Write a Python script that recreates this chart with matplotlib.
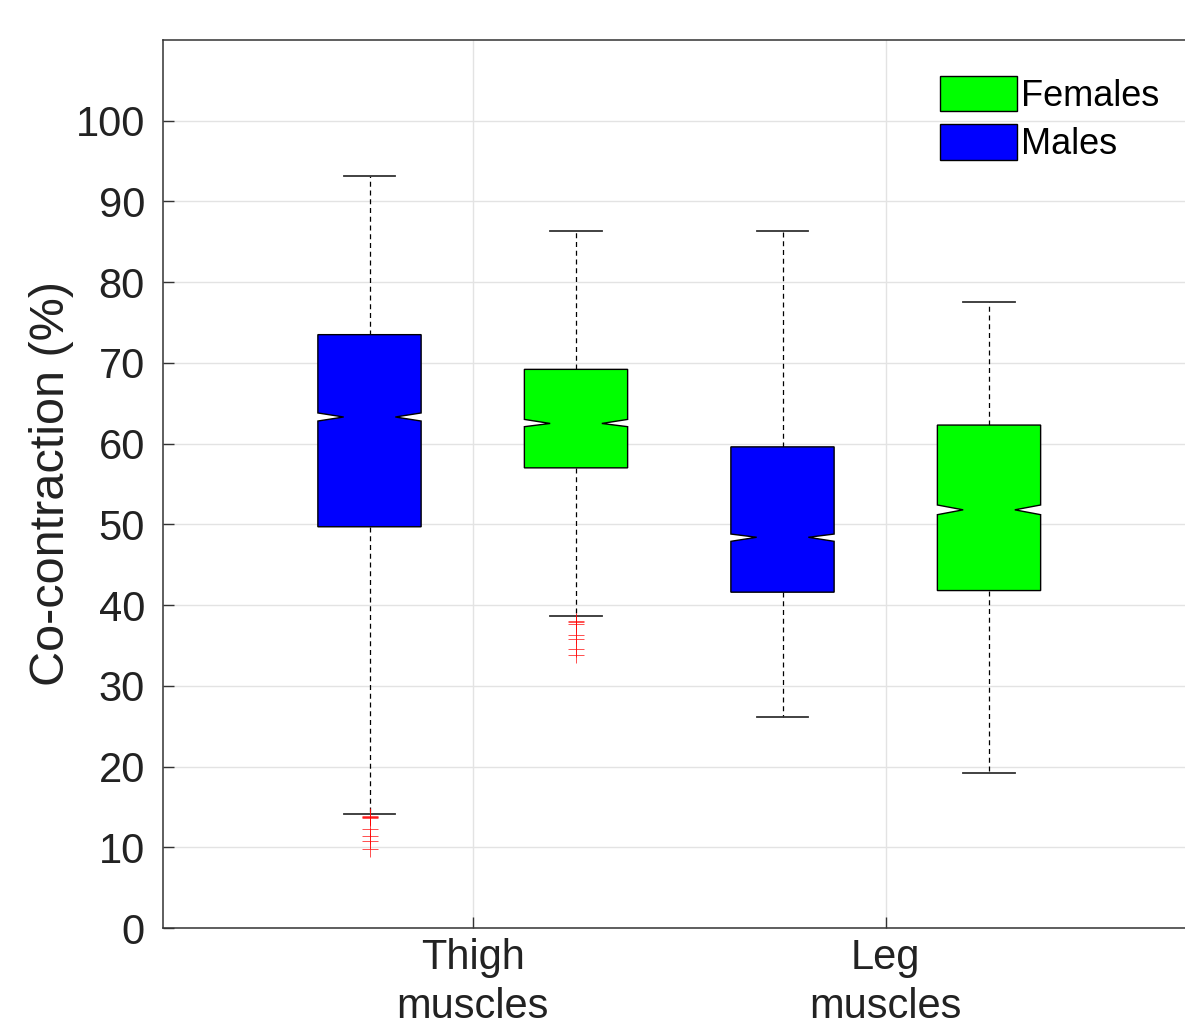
import numpy as np
import matplotlib.pyplot as plt

plt.rcParams['font.family'] = ['Liberation Sans', 'DejaVu Sans']

# Box statistics (co-contraction, %)
groups = ['Males', 'Females', 'Males', 'Females']
positions = [1, 2, 3, 4]
q1 = [49.7, 57.0, 41.6, 41.8]
q3 = [73.5, 69.2, 59.6, 62.3]
medians = [63.3, 62.5, 48.4, 51.8]
ci_low = [62.8, 62.1, 47.9, 51.2]
ci_high = [63.8, 63.0, 48.8, 52.4]
whisker_low = [14.1, 38.7, 26.1, 19.2]
whisker_high = [93.2, 86.3, 86.4, 77.5]
fliers = [
    [13.9, 13.8, 13.7, 13.6, 12.3, 11.4, 10.8, 9.8],
    [38.0, 37.9, 37.7, 36.3, 35.8, 34.5, 33.8],
    [],
    [],
]
tick_pos = [1.5, 3.5]
tick_labels = ['Thigh\nmuscles', 'Leg\nmuscles']
colors = {'Females': '#00ff00', 'Males': '#0000ff'}

stats = []
for i in range(len(positions)):
    stats.append({
        'med': medians[i], 'q1': q1[i], 'q3': q3[i],
        'whislo': whisker_low[i], 'whishi': whisker_high[i],
        'cilo': ci_low[i], 'cihi': ci_high[i],
        'fliers': np.array(fliers[i]),
    })

fig = plt.figure(figsize=(11.85, 10.21), dpi=100)
ax = fig.add_axes([163 / 1185, 93 / 1021, 1032.5 / 1185, 888 / 1021])

bp = ax.bxp(
    stats, positions=positions, widths=0.5, shownotches=True,
    patch_artist=True,
    boxprops=dict(edgecolor='black', linewidth=1.0),
    whiskerprops=dict(color='black', linestyle=(0, (4, 3)), linewidth=0.9),
    capprops=dict(color='#333333', linewidth=1.3),
    medianprops=dict(visible=False),
    flierprops=dict(marker='+', markeredgecolor='red', markersize=11,
                    markeredgewidth=0.6, alpha=0.8),
)
for patch, g in zip(bp['boxes'], groups):
    patch.set_facecolor(colors[g])
    patch.set_zorder(3)

ax.set_xlim(0, 5)
ax.set_ylim(0, 110)
ax.set_yticks(np.arange(0, 101, 10))
ax.set_xticks(tick_pos)
ax.set_xticklabels(tick_labels, fontsize=30, linespacing=1.3)
ax.tick_params(axis='y', labelsize=30, pad=13)
ax.tick_params(direction='in', length=8, width=1, color='#333333', labelcolor='#222222')
ax.tick_params(axis='x', pad=7)
ax.grid(True, color='#e3e3e3', linewidth=1)
ax.set_axisbelow(True)
for s in ax.spines.values():
    s.set_color('#333333')
    s.set_linewidth(1.1)

ax.set_ylabel('Co-contraction (%)', fontsize=35, color='#222222', labelpad=1)

handles = [plt.Rectangle((0, 0), 1, 1, facecolor=colors['Females'], edgecolor='black'),
           plt.Rectangle((0, 0), 1, 1, facecolor=colors['Males'], edgecolor='black')]
ax.legend(handles, ['Females', 'Males'], loc='upper left',
          bbox_to_anchor=(0.7525, 0.96), frameon=False, fontsize=26,
          handlelength=2.12, handleheight=1.15, handletextpad=0.13,
          labelspacing=0.28, borderaxespad=0, borderpad=0)

fig.savefig('out.png', dpi=100)
